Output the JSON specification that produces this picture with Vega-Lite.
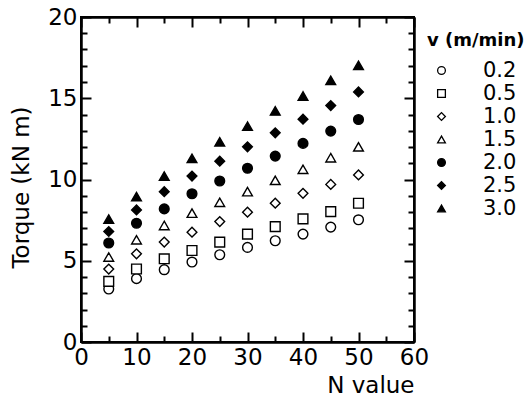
{
  "$schema": "https://vega.github.io/schema/vega-lite/v6.json",
  "width": 333,
  "height": 325,
  "autosize": "none",
  "padding": {"left": 81, "top": 17, "right": 114, "bottom": 68},
  "background": "white",
  "config": {
    "font": "DejaVu Sans",
    "view": {"stroke": "black", "strokeWidth": 2},
    "axis": {"domainColor": "black", "domainWidth": 2, "tickWidth": 2, "tickOpacity": 1, "grid": false, "labelFontSize": 23, "titleFontSize": 23, "titleFontWeight": "normal"},
    "legend": {"titleFontSize": 18, "titleFontWeight": "bold", "labelFontSize": 21}
  },
  "data": {
    "values": [
      {"v": "0.2", "N": 5, "T": 3.26}, {"v": "0.2", "N": 10, "T": 3.9}, {"v": "0.2", "N": 15, "T": 4.45}, {"v": "0.2", "N": 20, "T": 4.92}, {"v": "0.2", "N": 25, "T": 5.37}, {"v": "0.2", "N": 30, "T": 5.82}, {"v": "0.2", "N": 35, "T": 6.23}, {"v": "0.2", "N": 40, "T": 6.64}, {"v": "0.2", "N": 45, "T": 7.07}, {"v": "0.2", "N": 50, "T": 7.52},
      {"v": "0.5", "N": 5, "T": 3.73}, {"v": "0.5", "N": 10, "T": 4.49}, {"v": "0.5", "N": 15, "T": 5.12}, {"v": "0.5", "N": 20, "T": 5.63}, {"v": "0.5", "N": 25, "T": 6.15}, {"v": "0.5", "N": 30, "T": 6.64}, {"v": "0.5", "N": 35, "T": 7.1}, {"v": "0.5", "N": 40, "T": 7.58}, {"v": "0.5", "N": 45, "T": 8.02}, {"v": "0.5", "N": 50, "T": 8.54},
      {"v": "1.0", "N": 5, "T": 4.49}, {"v": "1.0", "N": 10, "T": 5.43}, {"v": "1.0", "N": 15, "T": 6.15}, {"v": "1.0", "N": 20, "T": 6.76}, {"v": "1.0", "N": 25, "T": 7.41}, {"v": "1.0", "N": 30, "T": 7.99}, {"v": "1.0", "N": 35, "T": 8.54}, {"v": "1.0", "N": 40, "T": 9.15}, {"v": "1.0", "N": 45, "T": 9.7}, {"v": "1.0", "N": 50, "T": 10.28},
      {"v": "1.5", "N": 5, "T": 5.23}, {"v": "1.5", "N": 10, "T": 6.29}, {"v": "1.5", "N": 15, "T": 7.17}, {"v": "1.5", "N": 20, "T": 7.93}, {"v": "1.5", "N": 25, "T": 8.6}, {"v": "1.5", "N": 30, "T": 9.25}, {"v": "1.5", "N": 35, "T": 9.95}, {"v": "1.5", "N": 40, "T": 10.63}, {"v": "1.5", "N": 45, "T": 11.34}, {"v": "1.5", "N": 50, "T": 12.01},
      {"v": "2.0", "N": 5, "T": 6.09}, {"v": "2.0", "N": 10, "T": 7.31}, {"v": "2.0", "N": 15, "T": 8.19}, {"v": "2.0", "N": 20, "T": 9.12}, {"v": "2.0", "N": 25, "T": 9.91}, {"v": "2.0", "N": 30, "T": 10.69}, {"v": "2.0", "N": 35, "T": 11.44}, {"v": "2.0", "N": 40, "T": 12.22}, {"v": "2.0", "N": 45, "T": 12.98}, {"v": "2.0", "N": 50, "T": 13.69},
      {"v": "2.5", "N": 5, "T": 6.8}, {"v": "2.5", "N": 10, "T": 8.13}, {"v": "2.5", "N": 15, "T": 9.25}, {"v": "2.5", "N": 20, "T": 10.21}, {"v": "2.5", "N": 25, "T": 11.13}, {"v": "2.5", "N": 30, "T": 12.01}, {"v": "2.5", "N": 35, "T": 12.87}, {"v": "2.5", "N": 40, "T": 13.71}, {"v": "2.5", "N": 45, "T": 14.55}, {"v": "2.5", "N": 50, "T": 15.39},
      {"v": "3.0", "N": 5, "T": 7.56}, {"v": "3.0", "N": 10, "T": 8.95}, {"v": "3.0", "N": 15, "T": 10.21}, {"v": "3.0", "N": 20, "T": 11.3}, {"v": "3.0", "N": 25, "T": 12.32}, {"v": "3.0", "N": 30, "T": 13.28}, {"v": "3.0", "N": 35, "T": 14.22}, {"v": "3.0", "N": 40, "T": 15.14}, {"v": "3.0", "N": 45, "T": 16.1}, {"v": "3.0", "N": 50, "T": 17.02}
    ]
  },
  "layer": [
    {
      "mark": {"type": "point", "filled": true, "stroke": "black", "strokeWidth": 1.4, "size": 95, "strokeOpacity": 1, "opacity": 1},
      "encoding": {
        "x": {
          "field": "N", "type": "quantitative",
          "scale": {"domain": [0, 60], "nice": false, "zero": false},
          "axis": {
            "orient": "bottom", "title": "N value", "titleAnchor": "end", "titlePadding": 5, "tickColor": "#010101", "zindex": 1,
            "values": [0, 10, 20, 30, 40, 50, 60],
            "labelPadding": 14, "labelFlush": false, "tickSize": -10
          }
        },
        "y": {
          "field": "T", "type": "quantitative",
          "scale": {"domain": [0, 20], "nice": false},
          "axis": {
            "orient": "left", "title": "Torque (kN m)", "titleX": -48, "titleY": 170, "tickColor": "#010101", "zindex": 1,
            "values": [0, 5, 10, 15, 20],
            "labelPadding": 14, "tickSize": -10
          }
        },
        "shape": {
          "field": "v", "type": "nominal",
          "scale": {"domain": ["0.2", "0.5", "1.0", "1.5", "2.0", "2.5", "3.0"], "range": ["circle", "square", "diamond", "triangle-up", "circle", "diamond", "triangle-up"]},
          "legend": {"title": "v (m/min)", "orient": "none", "legendX": 346, "legendY": 15, "padding": 0, "symbolSize": 60, "symbolStrokeWidth": 1.3, "labelOffset": 31, "rowPadding": 1, "titlePadding": 10, "symbolOffset": 4}
        },
        "fill": {
          "field": "v", "type": "nominal",
          "scale": {"domain": ["0.2", "0.5", "1.0", "1.5", "2.0", "2.5", "3.0"], "range": ["white", "white", "white", "white", "black", "black", "black"]},
          "legend": {"title": "v (m/min)", "orient": "none", "legendX": 346, "legendY": 15, "padding": 0, "symbolSize": 60, "symbolStrokeWidth": 1.3, "labelOffset": 31, "rowPadding": 1, "titlePadding": 10, "symbolOffset": 4}
        }
      }
    },
    {
      "mark": {"type": "point", "opacity": 0},
      "encoding": {
        "x": {
          "field": "N", "type": "quantitative",
          "scale": {"domain": [0, 60], "nice": false, "zero": false},
          "axis": {"orient": "top", "title": null, "labels": false, "tickColor": "#010101", "zindex": 1, "values": [0, 10, 20, 30, 40, 50, 60], "tickSize": -10}
        },
        "y": {
          "field": "T", "type": "quantitative",
          "scale": {"domain": [0, 20], "nice": false},
          "axis": {"orient": "right", "title": null, "labels": false, "tickColor": "#010101", "zindex": 1, "values": [0, 5, 10, 15, 20], "tickSize": -10}
        }
      }
    },
    {
      "mark": {"type": "point", "opacity": 0},
      "encoding": {
        "x": {
          "field": "N", "type": "quantitative",
          "scale": {"domain": [0, 60], "nice": false, "zero": false},
          "axis": {"orient": "bottom", "title": null, "labels": false, "tickColor": "#010101", "zindex": 1, "values": [5, 15, 25, 35, 45, 55], "tickSize": -6}
        },
        "y": {
          "field": "T", "type": "quantitative",
          "scale": {"domain": [0, 20], "nice": false},
          "axis": {"orient": "left", "title": null, "labels": false, "tickColor": "#010101", "zindex": 1, "values": [1, 2, 3, 4, 6, 7, 8, 9, 11, 12, 13, 14, 16, 17, 18, 19], "tickSize": -6}
        }
      }
    },
    {
      "mark": {"type": "point", "opacity": 0},
      "encoding": {
        "x": {
          "field": "N", "type": "quantitative",
          "scale": {"domain": [0, 60], "nice": false, "zero": false},
          "axis": {"orient": "top", "title": null, "labels": false, "tickColor": "#010101", "zindex": 1, "values": [5, 15, 25, 35, 45, 55], "tickSize": -6}
        },
        "y": {
          "field": "T", "type": "quantitative",
          "scale": {"domain": [0, 20], "nice": false},
          "axis": {"orient": "right", "title": null, "labels": false, "tickColor": "#010101", "zindex": 1, "values": [1, 2, 3, 4, 6, 7, 8, 9, 11, 12, 13, 14, 16, 17, 18, 19], "tickSize": -6}
        }
      }
    }
  ]
}
